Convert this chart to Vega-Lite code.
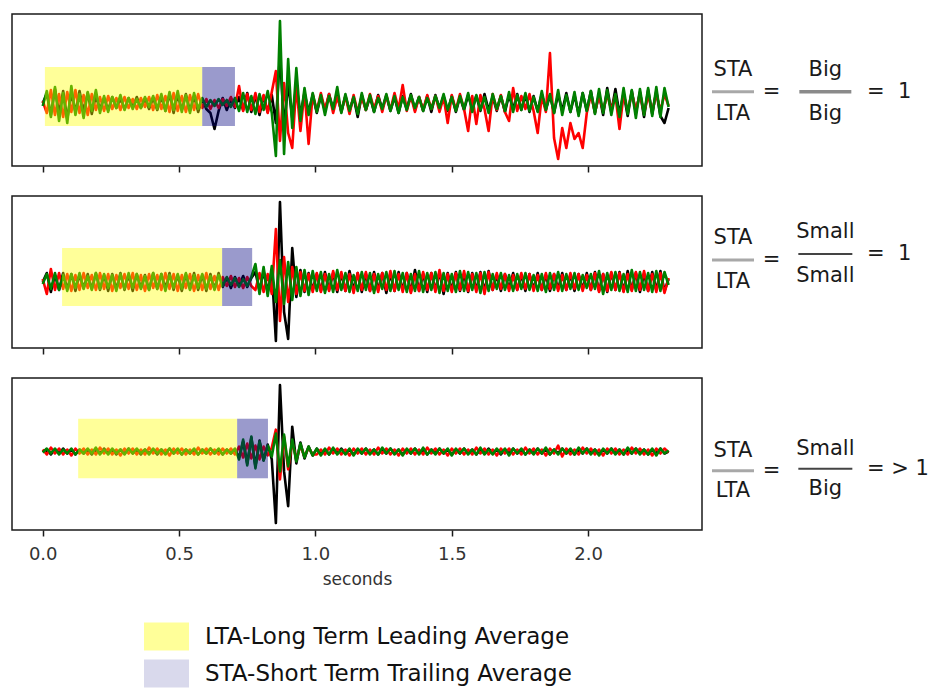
{
"$schema":"https://vega.github.io/schema/vega-lite/v6.json",
"background":"white",
"padding":{"left":11,"top":13,"right":0,"bottom":0},
"autosize":{"type":"pad"},
"config":{"font":"DejaVu Sans","view":{"stroke":"#1a1a1a","strokeWidth":1.5}},
"spacing":21,
"datasets":{
"w":[
{"t":0,"ak":0,"ar":2,"ag":-3,"bk":0,"br":3,"bg":-2,"ck":0,"cr":2,"cg":-1},
{"t":0.015,"ak":9,"ar":-10,"ag":12,"bk":9,"br":-12,"bg":8,"ck":2,"cr":-3,"cg":3},
{"t":0.03,"ak":-12,"ar":13,"ag":-14,"bk":-10,"br":13,"bg":-7,"ck":-3,"cr":4,"cg":-2},
{"t":0.045,"ak":14,"ar":-12,"ag":16,"bk":7,"br":-8,"bg":9,"ck":2,"cr":-2,"cg":3},
{"t":0.06,"ak":-10,"ar":9,"ag":-18,"bk":-8,"br":9,"bg":-8,"ck":-2,"cr":3,"cg":-3},
{"t":0.075,"ak":12,"ar":-14,"ag":10,"bk":9,"br":-7,"bg":7,"ck":3,"cr":-3,"cg":2},
{"t":0.09,"ak":-16,"ar":11,"ag":-20,"bk":-7,"br":8,"bg":-9,"ck":-2,"cr":2,"cg":-2},
{"t":0.105,"ak":10,"ar":-9,"ag":17,"bk":8,"br":-9,"bg":8,"ck":2,"cr":-4,"cg":3},
{"t":0.12,"ak":-9,"ar":13,"ag":-12,"bk":-9,"br":7,"bg":-6,"ck":-3,"cr":3,"cg":-3},
{"t":0.135,"ak":12,"ar":-10,"ag":9,"bk":7,"br":-8,"bg":9,"ck":2,"cr":-2,"cg":2},
{"t":0.15,"ak":-8,"ar":8,"ag":-15,"bk":-6,"br":9,"bg":-7,"ck":-2,"cr":3,"cg":-2},
{"t":0.165,"ak":10,"ar":-12,"ag":11,"bk":8,"br":-6,"bg":6,"ck":2,"cr":-3,"cg":3},
{"t":0.18,"ak":-11,"ar":9,"ag":-8,"bk":-7,"br":7,"bg":-8,"ck":-3,"cr":2,"cg":-2},
{"t":0.195,"ak":7,"ar":-7,"ag":13,"bk":9,"br":-8,"bg":9,"ck":2,"cr":-3,"cg":4},
{"t":0.21,"ak":-6,"ar":6,"ag":-10,"bk":-8,"br":9,"bg":-7,"ck":-2,"cr":4,"cg":-3},
{"t":0.225,"ak":5,"ar":-8,"ag":7,"bk":7,"br":-7,"bg":8,"ck":3,"cr":-2,"cg":2},
{"t":0.24,"ak":-7,"ar":7,"ag":-9,"bk":-9,"br":8,"bg":-6,"ck":-2,"cr":3,"cg":-3},
{"t":0.255,"ak":6,"ar":-6,"ag":6,"bk":8,"br":-9,"bg":7,"ck":2,"cr":-3,"cg":3},
{"t":0.27,"ak":-5,"ar":5,"ag":-5,"bk":-7,"br":7,"bg":-9,"ck":-3,"cr":2,"cg":-2},
{"t":0.285,"ak":4,"ar":-7,"ag":8,"bk":9,"br":-6,"bg":8,"ck":2,"cr":-4,"cg":2},
{"t":0.3,"ak":-6,"ar":6,"ag":-7,"bk":-8,"br":8,"bg":-7,"ck":-2,"cr":3,"cg":-3},
{"t":0.315,"ak":5,"ar":-5,"ag":5,"bk":7,"br":-7,"bg":9,"ck":3,"cr":-2,"cg":3},
{"t":0.33,"ak":-4,"ar":4,"ag":-6,"bk":-9,"br":9,"bg":-6,"ck":-2,"cr":3,"cg":-2},
{"t":0.345,"ak":6,"ar":-6,"ag":4,"bk":8,"br":-8,"bg":8,"ck":2,"cr":-3,"cg":3},
{"t":0.36,"ak":-5,"ar":5,"ag":-5,"bk":-6,"br":7,"bg":-7,"ck":-3,"cr":2,"cg":-2},
{"t":0.375,"ak":4,"ar":-4,"ag":6,"bk":7,"br":-9,"bg":6,"ck":2,"cr":-3,"cg":2},
{"t":0.39,"ak":-6,"ar":6,"ag":-4,"bk":-8,"br":8,"bg":-8,"ck":-2,"cr":4,"cg":-3},
{"t":0.405,"ak":5,"ar":-7,"ag":7,"bk":9,"br":-6,"bg":9,"ck":2,"cr":-2,"cg":3},
{"t":0.42,"ak":-7,"ar":8,"ag":-6,"bk":-7,"br":7,"bg":-7,"ck":-3,"cr":3,"cg":-2},
{"t":0.435,"ak":6,"ar":-6,"ag":9,"bk":8,"br":-8,"bg":8,"ck":2,"cr":-3,"cg":2},
{"t":0.45,"ak":-8,"ar":7,"ag":-8,"bk":-6,"br":9,"bg":-9,"ck":-2,"cr":2,"cg":-3},
{"t":0.465,"ak":9,"ar":-9,"ag":11,"bk":9,"br":-7,"bg":7,"ck":3,"cr":-4,"cg":3},
{"t":0.48,"ak":-10,"ar":10,"ag":-7,"bk":-8,"br":8,"bg":-6,"ck":-2,"cr":3,"cg":-2},
{"t":0.495,"ak":8,"ar":-8,"ag":12,"bk":7,"br":-9,"bg":8,"ck":2,"cr":-2,"cg":3},
{"t":0.51,"ak":-7,"ar":7,"ag":-9,"bk":-9,"br":7,"bg":-7,"ck":-3,"cr":3,"cg":-3},
{"t":0.525,"ak":9,"ar":-9,"ag":8,"bk":8,"br":-6,"bg":9,"ck":2,"cr":-3,"cg":2},
{"t":0.54,"ak":-8,"ar":8,"ag":-10,"bk":-7,"br":8,"bg":-8,"ck":-2,"cr":2,"cg":-2},
{"t":0.555,"ak":7,"ar":-7,"ag":10,"bk":9,"br":-9,"bg":7,"ck":2,"cr":-3,"cg":3},
{"t":0.57,"ak":-9,"ar":9,"ag":-6,"bk":-8,"br":7,"bg":-6,"ck":-3,"cr":4,"cg":-3},
{"t":0.585,"ak":4,"ar":-5,"ag":5,"bk":7,"br":-8,"bg":8,"ck":2,"cr":-2,"cg":2},
{"t":0.6,"ak":-6,"ar":4,"ag":-4,"bk":-9,"br":9,"bg":-7,"ck":-2,"cr":3,"cg":-2},
{"t":0.615,"ak":-10,"ar":-6,"ag":3,"bk":8,"br":-7,"bg":6,"ck":3,"cr":-3,"cg":3},
{"t":0.63,"ak":-26,"ar":3,"ag":-3,"bk":-7,"br":6,"bg":-8,"ck":-2,"cr":2,"cg":-2},
{"t":0.645,"ak":-8,"ar":-5,"ag":4,"bk":9,"br":-8,"bg":7,"ck":2,"cr":-3,"cg":3},
{"t":0.66,"ak":5,"ar":4,"ag":-2,"bk":-5,"br":5,"bg":-4,"ck":-3,"cr":3,"cg":-3},
{"t":0.675,"ak":-7,"ar":-3,"ag":3,"bk":4,"br":-4,"bg":5,"ck":2,"cr":-2,"cg":2},
{"t":0.69,"ak":4,"ar":6,"ag":-4,"bk":-6,"br":6,"bg":-3,"ck":-2,"cr":3,"cg":-2},
{"t":0.705,"ak":-5,"ar":-4,"ag":5,"bk":5,"br":-5,"bg":4,"ck":2,"cr":-3,"cg":3},
{"t":0.72,"ak":6,"ar":17,"ag":-8,"bk":-4,"br":4,"bg":-5,"ck":-6,"cr":5,"cg":-8},
{"t":0.735,"ak":-7,"ar":-8,"ag":10,"bk":6,"br":-6,"bg":3,"ck":10,"cr":-6,"cg":12},
{"t":0.75,"ak":10,"ar":9,"ag":-9,"bk":-5,"br":5,"bg":-4,"ck":-12,"cr":8,"cg":-14},
{"t":0.765,"ak":-9,"ar":-7,"ag":7,"bk":4,"br":-4,"bg":5,"ck":14,"cr":-7,"cg":15},
{"t":0.78,"ak":8,"ar":10,"ag":-11,"bk":10,"br":-8,"bg":18,"ck":-15,"cr":6,"cg":-17},
{"t":0.795,"ak":-12,"ar":-9,"ag":9,"bk":-9,"br":9,"bg":-12,"ck":11,"cr":-8,"cg":10},
{"t":0.81,"ak":7,"ar":8,"ag":-7,"bk":11,"br":-10,"bg":15,"ck":-9,"cr":5,"cg":-9},
{"t":0.825,"ak":-9,"ar":-10,"ag":12,"bk":-10,"br":8,"bg":-14,"ck":7,"cr":-4,"cg":6},
{"t":0.84,"ak":8,"ar":11,"ag":-10,"bk":12,"br":-12,"bg":16,"ck":-8,"cr":4,"cg":-5},
{"t":0.855,"ak":-20,"ar":32,"ag":-53,"bk":-59,"br":53,"bg":-20,"ck":-72,"cr":22,"cg":18},
{"t":0.87,"ak":49,"ar":-38,"ag":82,"bk":80,"br":-39,"bg":22,"ck":67,"cr":-28,"cg":-20},
{"t":0.885,"ak":-25,"ar":20,"ag":-51,"bk":-30,"br":25,"bg":-22,"ck":-20,"cr":15,"cg":17},
{"t":0.9,"ak":20,"ar":-30,"ag":44,"bk":-57,"br":-20,"bg":20,"ck":-55,"cr":-18,"cg":-15},
{"t":0.915,"ak":-15,"ar":-45,"ag":-25,"bk":34,"br":15,"bg":-18,"ck":25,"cr":10,"cg":12},
{"t":0.93,"ak":18,"ar":18,"ag":35,"bk":-15,"br":-12,"bg":15,"ck":-12,"cr":-8,"cg":-10},
{"t":0.945,"ak":-12,"ar":-28,"ag":-18,"bk":12,"br":10,"bg":-14,"ck":9,"cr":6,"cg":8},
{"t":0.96,"ak":10,"ar":12,"ag":15,"bk":-10,"br":-9,"bg":12,"ck":-7,"cr":-5,"cg":-6},
{"t":0.975,"ak":-9,"ar":-41,"ag":-12,"bk":9,"br":8,"bg":-13,"ck":5,"cr":4,"cg":5},
{"t":0.99,"ak":8,"ar":9,"ag":10,"bk":-8,"br":-10,"bg":11,"ck":-4,"cr":-3,"cg":-4},
{"t":1.005,"ak":-10,"ar":-8,"ag":-9,"bk":8,"br":9,"bg":-9,"ck":3,"cr":-3,"cg":3},
{"t":1.02,"ak":7,"ar":10,"ag":8,"bk":-9,"br":-10,"bg":10,"ck":-2,"cr":2,"cg":-4},
{"t":1.035,"ak":-8,"ar":-7,"ag":-12,"bk":10,"br":8,"bg":-11,"ck":2,"cr":-3,"cg":3},
{"t":1.05,"ak":9,"ar":9,"ag":7,"bk":-8,"br":-9,"bg":8,"ck":-3,"cr":4,"cg":-3},
{"t":1.065,"ak":-6,"ar":-10,"ag":-6,"bk":9,"br":11,"bg":-10,"ck":2,"cr":-2,"cg":4},
{"t":1.08,"ak":8,"ar":6,"ag":16,"bk":-10,"br":-8,"bg":12,"ck":-2,"cr":3,"cg":-3},
{"t":1.095,"ak":-9,"ar":-8,"ag":-10,"bk":8,"br":10,"bg":-8,"ck":3,"cr":-3,"cg":2},
{"t":1.11,"ak":7,"ar":7,"ag":9,"bk":-9,"br":-9,"bg":9,"ck":-2,"cr":2,"cg":-3},
{"t":1.125,"ak":-8,"ar":-11,"ag":-8,"bk":11,"br":8,"bg":-10,"ck":2,"cr":-4,"cg":3},
{"t":1.14,"ak":6,"ar":8,"ag":6,"bk":-8,"br":-11,"bg":7,"ck":-3,"cr":3,"cg":-4},
{"t":1.155,"ak":-14,"ar":-9,"ag":-11,"bk":9,"br":9,"bg":-9,"ck":2,"cr":-2,"cg":3},
{"t":1.17,"ak":8,"ar":6,"ag":10,"bk":-10,"br":-8,"bg":10,"ck":-2,"cr":3,"cg":-2},
{"t":1.185,"ak":-7,"ar":-7,"ag":-7,"bk":8,"br":10,"bg":-8,"ck":3,"cr":-3,"cg":3},
{"t":1.2,"ak":6,"ar":9,"ag":8,"bk":-9,"br":-9,"bg":9,"ck":-2,"cr":2,"cg":-3},
{"t":1.215,"ak":-9,"ar":-6,"ag":-9,"bk":10,"br":8,"bg":-11,"ck":2,"cr":-3,"cg":2},
{"t":1.23,"ak":8,"ar":7,"ag":5,"bk":-8,"br":-10,"bg":8,"ck":-3,"cr":4,"cg":-3},
{"t":1.245,"ak":-6,"ar":-9,"ag":-6,"bk":9,"br":9,"bg":-7,"ck":2,"cr":-2,"cg":4},
{"t":1.26,"ak":7,"ar":8,"ag":9,"bk":-11,"br":-8,"bg":10,"ck":-2,"cr":3,"cg":-2},
{"t":1.275,"ak":-8,"ar":-7,"ag":-8,"bk":8,"br":11,"bg":-9,"ck":3,"cr":-3,"cg":3},
{"t":1.29,"ak":6,"ar":10,"ag":7,"bk":-9,"br":-9,"bg":11,"ck":-2,"cr":2,"cg":-3},
{"t":1.305,"ak":-10,"ar":-6,"ag":-10,"bk":10,"br":8,"bg":-8,"ck":2,"cr":-4,"cg":2},
{"t":1.32,"ak":7,"ar":18,"ag":6,"bk":-8,"br":-10,"bg":9,"ck":-3,"cr":3,"cg":-4},
{"t":1.335,"ak":-6,"ar":-8,"ag":-7,"bk":9,"br":9,"bg":-10,"ck":2,"cr":-2,"cg":3},
{"t":1.35,"ak":9,"ar":7,"ag":8,"bk":-10,"br":-11,"bg":8,"ck":-2,"cr":3,"cg":-2},
{"t":1.365,"ak":-7,"ar":-9,"ag":-5,"bk":12,"br":8,"bg":-9,"ck":3,"cr":-3,"cg":3},
{"t":1.38,"ak":6,"ar":6,"ag":6,"bk":-9,"br":-9,"bg":11,"ck":-2,"cr":2,"cg":-3},
{"t":1.395,"ak":-8,"ar":-7,"ag":-8,"bk":8,"br":10,"bg":-10,"ck":2,"cr":-3,"cg":4},
{"t":1.41,"ak":7,"ar":8,"ag":5,"bk":-10,"br":-8,"bg":9,"ck":-3,"cr":4,"cg":-3},
{"t":1.425,"ak":-9,"ar":-6,"ag":-6,"bk":9,"br":9,"bg":-8,"ck":2,"cr":-2,"cg":2},
{"t":1.44,"ak":8,"ar":7,"ag":7,"bk":-8,"br":-10,"bg":10,"ck":-2,"cr":3,"cg":-3},
{"t":1.455,"ak":-6,"ar":-9,"ag":-5,"bk":10,"br":12,"bg":-11,"ck":3,"cr":-3,"cg":3},
{"t":1.47,"ak":7,"ar":6,"ag":9,"bk":-12,"br":-9,"bg":9,"ck":-2,"cr":2,"cg":-2},
{"t":1.485,"ak":-8,"ar":-20,"ag":-7,"bk":9,"br":8,"bg":-9,"ck":2,"cr":-4,"cg":3},
{"t":1.5,"ak":7,"ar":8,"ag":6,"bk":-8,"br":-10,"bg":8,"ck":-3,"cr":3,"cg":-4},
{"t":1.515,"ak":-9,"ar":-7,"ag":-8,"bk":10,"br":9,"bg":-10,"ck":2,"cr":-2,"cg":3},
{"t":1.53,"ak":6,"ar":9,"ag":7,"bk":-9,"br":-8,"bg":11,"ck":-2,"cr":3,"cg":-2},
{"t":1.545,"ak":-7,"ar":-6,"ag":-6,"bk":8,"br":11,"bg":-9,"ck":3,"cr":-3,"cg":3},
{"t":1.56,"ak":8,"ar":-28,"ag":10,"bk":-10,"br":-9,"bg":10,"ck":-2,"cr":2,"cg":-3},
{"t":1.575,"ak":-6,"ar":7,"ag":-9,"bk":9,"br":8,"bg":-8,"ck":2,"cr":-3,"cg":2},
{"t":1.59,"ak":7,"ar":-21,"ag":8,"bk":-8,"br":-10,"bg":9,"ck":-3,"cr":4,"cg":-3},
{"t":1.605,"ak":-8,"ar":8,"ag":-7,"bk":10,"br":9,"bg":-11,"ck":2,"cr":-2,"cg":4},
{"t":1.62,"ak":9,"ar":-6,"ag":6,"bk":-9,"br":-12,"bg":10,"ck":-2,"cr":3,"cg":-3},
{"t":1.635,"ak":-7,"ar":-28,"ag":-10,"bk":11,"br":10,"bg":-9,"ck":3,"cr":-3,"cg":2},
{"t":1.65,"ak":6,"ar":9,"ag":9,"bk":-8,"br":-8,"bg":8,"ck":-2,"cr":2,"cg":-3},
{"t":1.665,"ak":-8,"ar":-7,"ag":-6,"bk":7,"br":9,"bg":-7,"ck":2,"cr":-4,"cg":3},
{"t":1.68,"ak":7,"ar":8,"ag":7,"bk":-9,"br":-7,"bg":9,"ck":-3,"cr":3,"cg":-2},
{"t":1.695,"ak":-9,"ar":-9,"ag":-8,"bk":8,"br":8,"bg":-8,"ck":2,"cr":-2,"cg":3},
{"t":1.71,"ak":8,"ar":-18,"ag":11,"bk":-7,"br":-9,"bg":7,"ck":-2,"cr":3,"cg":-4},
{"t":1.725,"ak":-6,"ar":15,"ag":-9,"bk":9,"br":7,"bg":-9,"ck":3,"cr":-3,"cg":3},
{"t":1.74,"ak":9,"ar":-8,"ag":8,"bk":-8,"br":-8,"bg":8,"ck":-2,"cr":2,"cg":-2},
{"t":1.755,"ak":-7,"ar":7,"ag":-7,"bk":7,"br":9,"bg":-7,"ck":2,"cr":-3,"cg":3},
{"t":1.77,"ak":8,"ar":-6,"ag":10,"bk":-9,"br":-7,"bg":9,"ck":-3,"cr":4,"cg":-3},
{"t":1.785,"ak":-9,"ar":9,"ag":-8,"bk":8,"br":8,"bg":-8,"ck":2,"cr":-2,"cg":2},
{"t":1.8,"ak":7,"ar":-8,"ag":6,"bk":-7,"br":-9,"bg":7,"ck":-2,"cr":3,"cg":-3},
{"t":1.815,"ak":-8,"ar":-30,"ag":-9,"bk":9,"br":7,"bg":-9,"ck":3,"cr":-3,"cg":3},
{"t":1.83,"ak":9,"ar":7,"ag":12,"bk":-8,"br":-8,"bg":8,"ck":-2,"cr":2,"cg":-2},
{"t":1.845,"ak":-7,"ar":-9,"ag":-7,"bk":7,"br":9,"bg":-10,"ck":2,"cr":-4,"cg":4},
{"t":1.86,"ak":8,"ar":50,"ag":9,"bk":-9,"br":-7,"bg":9,"ck":-3,"cr":3,"cg":-3},
{"t":1.875,"ak":-10,"ar":-35,"ag":-10,"bk":8,"br":8,"bg":-8,"ck":2,"cr":-2,"cg":2},
{"t":1.89,"ak":9,"ar":-56,"ag":13,"bk":-7,"br":-9,"bg":10,"ck":-2,"cr":6,"cg":-3},
{"t":1.905,"ak":-8,"ar":-25,"ag":-12,"bk":9,"br":7,"bg":-9,"ck":3,"cr":-5,"cg":3},
{"t":1.92,"ak":10,"ar":-45,"ag":8,"bk":-8,"br":-8,"bg":8,"ck":-2,"cr":3,"cg":-2},
{"t":1.935,"ak":-9,"ar":-20,"ag":-9,"bk":7,"br":9,"bg":-7,"ck":2,"cr":-3,"cg":3},
{"t":1.95,"ak":8,"ar":-36,"ag":11,"bk":-9,"br":-7,"bg":9,"ck":-3,"cr":2,"cg":-3},
{"t":1.965,"ak":-11,"ar":-30,"ag":-13,"bk":8,"br":8,"bg":-8,"ck":2,"cr":-3,"cg":4},
{"t":1.98,"ak":10,"ar":-45,"ag":10,"bk":-7,"br":-9,"bg":7,"ck":-2,"cr":4,"cg":-2},
{"t":1.995,"ak":-8,"ar":-10,"ag":-8,"bk":9,"br":7,"bg":-6,"ck":3,"cr":-2,"cg":3},
{"t":2.01,"ak":12,"ar":8,"ag":12,"bk":-8,"br":-8,"bg":8,"ck":-2,"cr":3,"cg":-3},
{"t":2.025,"ak":-10,"ar":-9,"ag":-11,"bk":10,"br":9,"bg":-7,"ck":2,"cr":-3,"cg":2},
{"t":2.04,"ak":9,"ar":7,"ag":14,"bk":-9,"br":-10,"bg":11,"ck":-3,"cr":2,"cg":-4},
{"t":2.055,"ak":-12,"ar":-8,"ag":-10,"bk":8,"br":8,"bg":-12,"ck":2,"cr":-4,"cg":3},
{"t":2.07,"ak":15,"ar":9,"ag":13,"bk":-10,"br":-9,"bg":9,"ck":-2,"cr":3,"cg":-2},
{"t":2.085,"ak":-9,"ar":-7,"ag":-12,"bk":9,"br":10,"bg":-8,"ck":3,"cr":-2,"cg":3},
{"t":2.1,"ak":14,"ar":8,"ag":9,"bk":-8,"br":-8,"bg":10,"ck":-2,"cr":3,"cg":-3},
{"t":2.115,"ak":-11,"ar":-26,"ag":-14,"bk":10,"br":9,"bg":-9,"ck":2,"cr":-3,"cg":2},
{"t":2.13,"ak":10,"ar":9,"ag":15,"bk":-9,"br":-10,"bg":8,"ck":-3,"cr":2,"cg":-3},
{"t":2.145,"ak":-13,"ar":-8,"ag":-11,"bk":11,"br":8,"bg":-10,"ck":2,"cr":-3,"cg":4},
{"t":2.16,"ak":12,"ar":10,"ag":13,"bk":-8,"br":-9,"bg":12,"ck":-2,"cr":4,"cg":-2},
{"t":2.175,"ak":-10,"ar":-7,"ag":-15,"bk":9,"br":10,"bg":-9,"ck":3,"cr":-2,"cg":3},
{"t":2.19,"ak":11,"ar":9,"ag":14,"bk":-10,"br":-8,"bg":10,"ck":-2,"cr":3,"cg":-3},
{"t":2.205,"ak":-14,"ar":-10,"ag":-12,"bk":8,"br":11,"bg":-8,"ck":2,"cr":-3,"cg":2},
{"t":2.22,"ak":13,"ar":8,"ag":15,"bk":-9,"br":-9,"bg":9,"ck":-3,"cr":2,"cg":-3},
{"t":2.235,"ak":-11,"ar":-9,"ag":-13,"bk":10,"br":8,"bg":-10,"ck":2,"cr":-4,"cg":3},
{"t":2.25,"ak":12,"ar":10,"ag":16,"bk":-8,"br":-10,"bg":11,"ck":-2,"cr":3,"cg":-4},
{"t":2.265,"ak":-13,"ar":-8,"ag":-14,"bk":11,"br":9,"bg":-9,"ck":3,"cr":-2,"cg":3},
{"t":2.28,"ak":-20,"ar":9,"ag":15,"bk":-9,"br":-11,"bg":10,"ck":-2,"cr":3,"cg":-2},
{"t":2.295,"ak":-5,"ar":-3,"ag":-4,"bk":3,"br":4,"bg":-3,"ck":0,"cr":-1,"cg":1}
],
"bands":[
{"panel":"A","band":"LTA-Long Term Leading Average","t0":0.008,"t1":0.585,"lo":-23,"hi":36},
{"panel":"A","band":"STA-Short Term Trailing Average","t0":0.585,"t1":0.705,"lo":-23,"hi":36},
{"panel":"B","band":"LTA-Long Term Leading Average","t0":0.071,"t1":0.658,"lo":-24,"hi":34},
{"panel":"B","band":"STA-Short Term Trailing Average","t0":0.658,"t1":0.768,"lo":-24,"hi":34},
{"panel":"C","band":"LTA-Long Term Leading Average","t0":0.13,"t1":0.713,"lo":-27,"hi":33},
{"panel":"C","band":"STA-Short Term Trailing Average","t0":0.713,"t1":0.826,"lo":-27,"hi":33}
]
},
"vconcat":[
{"spacing":5,"hconcat":[
{"width":690,"height":152,"data":{"name":"w"},
"encoding":{"x":{"field":"t","type":"quantitative","scale":{"domain":[-0.1126,2.4175],"nice":false,"zero":false},"axis":{"values":[0,0.5,1,1.5,2],"labels":false,"tickSize":6,"tickColor":"#1a1a1a","tickWidth":1.5,"domain":false,"grid":false,"title":null}}},
"layer":[
{"mark":{"type":"line","color":"#000000","strokeWidth":2.6,"strokeJoin":"round"},"encoding":{"y":{"field":"ak","type":"quantitative","scale":{"domain":[-63,89],"nice":false,"zero":false},"axis":null}}},
{"mark":{"type":"line","color":"#ff0000","strokeWidth":2.6,"strokeJoin":"round"},"encoding":{"y":{"field":"ar","type":"quantitative","axis":null}}},
{"mark":{"type":"line","color":"#008000","strokeWidth":2.6,"strokeJoin":"round"},"encoding":{"y":{"field":"ag","type":"quantitative","axis":null}}},
{"data":{"name":"bands"},"transform":[{"filter":"datum.panel === 'A'"}],"mark":{"type":"rect"},
"encoding":{"x":{"field":"t0","type":"quantitative"},"x2":{"field":"t1"},"y":{"field":"lo","type":"quantitative","axis":null},"y2":{"field":"hi"},
"fill":{"field":"band","type":"nominal","scale":{"domain":["LTA-Long Term Leading Average","STA-Short Term Trailing Average"],"range":["#ffff00","#000080"]},
"legend":{"title":null,"orient":"none","legendX":132,"legendY":600,"direction":"vertical","padding":0,"symbolType":"M-1,-0.62H1V0.62H-1Z","symbolSize":2025,"symbolStrokeWidth":0,"labelFontSize":23,"labelFont":"DejaVu Sans","labelColor":"#111111","labelOffset":16,"rowPadding":0,"labelLimit":600}},
"opacity":{"field":"band","type":"nominal","scale":{"domain":["LTA-Long Term Leading Average","STA-Short Term Trailing Average"],"range":[0.4,0.15]},
"legend":{"title":null,"orient":"none","legendX":132,"legendY":600,"direction":"vertical","padding":0,"symbolType":"M-1,-0.62H1V0.62H-1Z","symbolSize":2025,"symbolStrokeWidth":0,"labelFontSize":23,"labelFont":"DejaVu Sans","labelColor":"#111111","labelOffset":16,"rowPadding":0,"labelLimit":600}}}},
{"data":{"name":"bands"},"transform":[{"filter":"datum.panel === 'A' && datum.band === 'STA-Short Term Trailing Average'"}],"mark":{"type":"rect","color":"#000080","opacity":0.29},
"encoding":{"x":{"field":"t0","type":"quantitative"},"x2":{"field":"t1"},"y":{"field":"lo","type":"quantitative","axis":null},"y2":{"field":"hi"}}},
{"data":{"values":[{"label":"A"}]},"mark":{"type":"text","align":"left","baseline":"middle","fontSize":21,"color":"#111111"},"encoding":{"x":{"datum":-0.073,"type":"quantitative"},"y":{"datum":61.5,"type":"quantitative"},"text":{"field":"label"}}}
]},
{"width":230,"height":152,"view":{"stroke":null},
"data":{"values":[{"part":"lhs","level":"num","label":"STA"},{"part":"lhs","level":"den","label":"LTA"},{"part":"eq","level":"bar","label":"="},{"part":"rhs","level":"num","label":"Big"},{"part":"rhs","level":"den","label":"Big"},{"part":"res","level":"bar","label":"=\u00a0\u00a01"}]},
"encoding":{"x":{"field":"part","type":"nominal","scale":{"type":"point","padding":0,"domain":["lhs","eq","rhs","res"],"range":[25,159]},"axis":null},"y":{"field":"level","type":"nominal","scale":{"type":"point","padding":0,"domain":["num","bar","den"],"range":[56,99.5]},"axis":null},"text":{"field":"label"}},
"layer":[
{"transform":[{"filter":"datum.part === 'lhs'"}],"mark":{"type":"text","fontSize":21,"color":"#1a1a1a","align":"center","baseline":"middle"}},
{"transform":[{"filter":"datum.part === 'eq'"}],"mark":{"type":"text","fontSize":21,"color":"#1a1a1a","align":"center","baseline":"middle","xOffset":-6}},
{"transform":[{"filter":"datum.part === 'rhs'"}],"mark":{"type":"text","fontSize":21,"color":"#1a1a1a","align":"center","baseline":"middle","xOffset":3}},
{"transform":[{"filter":"datum.part === 'res'"}],"mark":{"type":"text","fontSize":21,"color":"#1a1a1a","align":"left","baseline":"middle"}},
{"transform":[{"filter":"datum.part === 'lhs' && datum.level === 'num'"}],"mark":{"type":"tick","orient":"horizontal","size":42,"thickness":3,"color":"#a8a8a8","opacity":1},"encoding":{"y":{"datum":"bar"},"text":null}},
{"transform":[{"filter":"datum.part === 'rhs' && datum.level === 'num'"}],"mark":{"type":"tick","orient":"horizontal","size":52,"thickness":3.5,"color":"#8a8a8a","opacity":1,"xOffset":3},"encoding":{"y":{"datum":"bar"},"text":null}}
]}
]},
{"spacing":5,"hconcat":[
{"width":690,"height":152,"data":{"name":"w"},
"encoding":{"x":{"field":"t","type":"quantitative","scale":{"domain":[-0.1126,2.4175],"nice":false,"zero":false},"axis":{"values":[0,0.5,1,1.5,2],"labels":false,"tickSize":6,"tickColor":"#1a1a1a","tickWidth":1.5,"domain":false,"grid":false,"title":null}}},
"layer":[
{"mark":{"type":"line","color":"#000000","strokeWidth":2.6,"strokeJoin":"round"},"encoding":{"y":{"field":"bk","type":"quantitative","scale":{"domain":[-66,86],"nice":false,"zero":false},"axis":null}}},
{"mark":{"type":"line","color":"#ff0000","strokeWidth":2.6,"strokeJoin":"round"},"encoding":{"y":{"field":"br","type":"quantitative","axis":null}}},
{"mark":{"type":"line","color":"#008000","strokeWidth":2.6,"strokeJoin":"round"},"encoding":{"y":{"field":"bg","type":"quantitative","axis":null}}},
{"data":{"name":"bands"},"transform":[{"filter":"datum.panel === 'B'"}],"mark":{"type":"rect"},
"encoding":{"x":{"field":"t0","type":"quantitative"},"x2":{"field":"t1"},"y":{"field":"lo","type":"quantitative","axis":null},"y2":{"field":"hi"},"fill":{"field":"band","type":"nominal"},"opacity":{"field":"band","type":"nominal"}}},
{"data":{"name":"bands"},"transform":[{"filter":"datum.panel === 'B' && datum.band === 'STA-Short Term Trailing Average'"}],"mark":{"type":"rect","color":"#000080","opacity":0.29},
"encoding":{"x":{"field":"t0","type":"quantitative"},"x2":{"field":"t1"},"y":{"field":"lo","type":"quantitative","axis":null},"y2":{"field":"hi"}}},
{"data":{"values":[{"label":"B"}]},"mark":{"type":"text","align":"left","baseline":"middle","fontSize":21,"color":"#111111"},"encoding":{"x":{"datum":-0.073,"type":"quantitative"},"y":{"datum":61,"type":"quantitative"},"text":{"field":"label"}}}
]},
{"width":230,"height":152,"view":{"stroke":null},
"data":{"values":[{"part":"lhs","level":"num","label":"STA"},{"part":"lhs","level":"den","label":"LTA"},{"part":"eq","level":"bar","label":"="},{"part":"rhs","level":"num","label":"Small"},{"part":"rhs","level":"den","label":"Small"},{"part":"res","level":"bar","label":"=\u00a0\u00a01"}]},
"encoding":{"x":{"field":"part","type":"nominal","scale":{"type":"point","padding":0,"domain":["lhs","eq","rhs","res"],"range":[25,159]},"axis":null},"y":{"field":"level","type":"nominal","scale":{"type":"point","padding":0,"domain":["num","bar","den"],"range":[42,86]},"axis":null},"text":{"field":"label"}},
"layer":[
{"transform":[{"filter":"datum.part === 'lhs'"}],"mark":{"type":"text","fontSize":21,"color":"#1a1a1a","align":"center","baseline":"middle"}},
{"transform":[{"filter":"datum.part === 'eq'"}],"mark":{"type":"text","fontSize":21,"color":"#1a1a1a","align":"center","baseline":"middle","xOffset":-6}},
{"transform":[{"filter":"datum.part === 'rhs'"}],"mark":{"type":"text","fontSize":21,"color":"#1a1a1a","align":"center","baseline":"middle","xOffset":3,"yOffset":-6}},
{"transform":[{"filter":"datum.part === 'res'"}],"mark":{"type":"text","fontSize":21,"color":"#1a1a1a","align":"left","baseline":"middle","yOffset":-6}},
{"transform":[{"filter":"datum.part === 'lhs' && datum.level === 'num'"}],"mark":{"type":"tick","orient":"horizontal","size":42,"thickness":3,"color":"#a8a8a8","opacity":1},"encoding":{"y":{"datum":"bar"},"text":null}},
{"transform":[{"filter":"datum.part === 'rhs' && datum.level === 'num'"}],"mark":{"type":"tick","orient":"horizontal","size":54,"thickness":2,"color":"#444444","opacity":1,"xOffset":3,"yOffset":-6},"encoding":{"y":{"datum":"bar"},"text":null}}
]}
]},
{"spacing":5,"hconcat":[
{"width":690,"height":152,"data":{"name":"w"},
"encoding":{"x":{"field":"t","type":"quantitative","scale":{"domain":[-0.1126,2.4175],"nice":false,"zero":false},"axis":{"values":[0,0.5,1,1.5,2],"format":".1f","labelFontSize":18,"labelColor":"#333333","labelPadding":9,"tickSize":6,"tickColor":"#1a1a1a","tickWidth":1.5,"domain":false,"grid":false,"title":"seconds","titleFontSize":17,"titleFontWeight":"normal","titleColor":"#333333","titlePadding":8}}},
"layer":[
{"mark":{"type":"line","color":"#000000","strokeWidth":2.6,"strokeJoin":"round"},"encoding":{"y":{"field":"ck","type":"quantitative","scale":{"domain":[-79,74],"nice":false,"zero":false},"axis":null}}},
{"mark":{"type":"line","color":"#ff0000","strokeWidth":2.6,"strokeJoin":"round"},"encoding":{"y":{"field":"cr","type":"quantitative","axis":null}}},
{"mark":{"type":"line","color":"#008000","strokeWidth":2.6,"strokeJoin":"round"},"encoding":{"y":{"field":"cg","type":"quantitative","axis":null}}},
{"data":{"name":"bands"},"transform":[{"filter":"datum.panel === 'C'"}],"mark":{"type":"rect"},
"encoding":{"x":{"field":"t0","type":"quantitative"},"x2":{"field":"t1"},"y":{"field":"lo","type":"quantitative","axis":null},"y2":{"field":"hi"},"fill":{"field":"band","type":"nominal"},"opacity":{"field":"band","type":"nominal"}}},
{"data":{"name":"bands"},"transform":[{"filter":"datum.panel === 'C' && datum.band === 'STA-Short Term Trailing Average'"}],"mark":{"type":"rect","color":"#000080","opacity":0.29},
"encoding":{"x":{"field":"t0","type":"quantitative"},"x2":{"field":"t1"},"y":{"field":"lo","type":"quantitative","axis":null},"y2":{"field":"hi"}}},
{"data":{"values":[{"note":"arrow"}]},"mark":{"type":"rule","color":"#ff6666","strokeWidth":1.6},"encoding":{"x":{"datum":0.754,"type":"quantitative"},"y":{"datum":62,"type":"quantitative"},"y2":{"datum":14}}},
{"data":{"values":[{"note":"arrowhead"}]},"mark":{"type":"point","shape":"M-0.55,-1L0,1L0.55,-1","filled":false,"color":"#ff6666","strokeWidth":1.6,"size":100,"opacity":1},"encoding":{"x":{"datum":0.754,"type":"quantitative"},"y":{"datum":18,"type":"quantitative"}}},
{"data":{"values":[{"label":"C"}]},"mark":{"type":"text","align":"left","baseline":"middle","fontSize":21,"color":"#111111"},"encoding":{"x":{"datum":-0.073,"type":"quantitative"},"y":{"datum":54.5,"type":"quantitative"},"text":{"field":"label"}}}
]},
{"width":230,"height":152,"view":{"stroke":null},
"data":{"values":[{"part":"lhs","level":"num","label":"STA"},{"part":"lhs","level":"den","label":"LTA"},{"part":"eq","level":"bar","label":"="},{"part":"rhs","level":"num","label":"Small"},{"part":"rhs","level":"den","label":"Big"},{"part":"res","level":"bar","label":"= > 1"}]},
"encoding":{"x":{"field":"part","type":"nominal","scale":{"type":"point","padding":0,"domain":["lhs","eq","rhs","res"],"range":[25,159]},"axis":null},"y":{"field":"level","type":"nominal","scale":{"type":"point","padding":0,"domain":["num","bar","den"],"range":[72.5,113]},"axis":null},"text":{"field":"label"}},
"layer":[
{"transform":[{"filter":"datum.part === 'lhs'"}],"mark":{"type":"text","fontSize":21,"color":"#1a1a1a","align":"center","baseline":"middle"}},
{"transform":[{"filter":"datum.part === 'eq'"}],"mark":{"type":"text","fontSize":21,"color":"#1a1a1a","align":"center","baseline":"middle","xOffset":-6}},
{"transform":[{"filter":"datum.part === 'rhs'"}],"mark":{"type":"text","fontSize":21,"color":"#1a1a1a","align":"center","baseline":"middle","xOffset":3,"yOffset":-2}},
{"transform":[{"filter":"datum.part === 'res'"}],"mark":{"type":"text","fontSize":21,"color":"#1a1a1a","align":"left","baseline":"middle","yOffset":-2}},
{"transform":[{"filter":"datum.part === 'lhs' && datum.level === 'num'"}],"mark":{"type":"tick","orient":"horizontal","size":42,"thickness":3,"color":"#a8a8a8","opacity":1},"encoding":{"y":{"datum":"bar"},"text":null}},
{"transform":[{"filter":"datum.part === 'rhs' && datum.level === 'num'"}],"mark":{"type":"tick","orient":"horizontal","size":54,"thickness":2,"color":"#444444","opacity":1,"xOffset":3,"yOffset":-2},"encoding":{"y":{"datum":"bar"},"text":null}}
]}
]}
]
}
